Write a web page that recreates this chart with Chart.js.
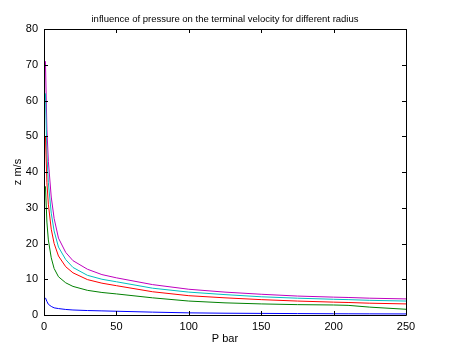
<!DOCTYPE html>
<html>
<head>
<meta charset="utf-8">
<script src="https://cdn.jsdelivr.net/npm/chart.js@4"></script>
<style>
  html, body { margin: 0; padding: 0; background: #fff; }
  #wrap { width: 449px; height: 351px; }
</style>
</head>
<body>
<div id="wrap"><canvas id="velChart" width="449" height="351"></canvas></div>
<script>
// pressure samples (bar)
const pressure = [1, 2, 3, 5, 7, 10, 15, 20, 30, 40, 50, 75, 100, 125, 150, 175, 200, 210, 225, 250];

// terminal velocity per radius
const velBlue    = [4.8, 3.8, 3.0, 2.4, 2.0, 1.8, 1.55, 1.4, 1.25, 1.15, 1.05, 0.8, 0.6, 0.5, 0.45, 0.4, 0.35, 0.34, 0.32, 0.3];
const velGreen   = [36, 26, 21, 16, 13, 10.7, 9.0, 8.0, 6.9, 6.3, 5.9, 4.8, 3.9, 3.4, 3.1, 2.9, 2.8, 2.7, 2.2, 1.6];
const velRed     = [50, 37, 31, 24, 20, 16.5, 13.5, 11.8, 9.9, 8.9, 8.2, 6.5, 5.4, 4.8, 4.3, 3.9, 3.6, 3.5, 3.3, 3.1];
const velCyan    = [62, 45, 37, 28.5, 23.5, 19, 15.5, 13.3, 11.1, 10.0, 9.3, 7.5, 6.4, 5.7, 5.1, 4.7, 4.4, 4.3, 4.1, 3.9];
const velMagenta = [71, 52, 43, 33, 27, 21.5, 17.5, 15.2, 12.8, 11.3, 10.4, 8.5, 7.2, 6.4, 5.8, 5.3, 5.0, 4.9, 4.7, 4.5];

const xTicks = [0, 50, 100, 150, 200, 250];
const yTicks = [0, 10, 20, 30, 40, 50, 60, 70, 80];

const chartTitle = 'influence of pressure on the terminal velocity for different radius';
const FONT = 'Liberation Sans, Arial, sans-serif';

function pts(vals) {
    return pressure.map((p, i) => ({ x: p, y: vals[i] }));
}

function series(vals, color) {
    return { data: pts(vals), borderColor: color, borderWidth: 1, pointRadius: 0, fill: false, tension: 0 };
}

// box frame + inward ticks + centred title, like the matlab axes
const boxTicks = {
    id: 'boxTicks',
    afterDraw(chart) {
        const c = chart.ctx, a = chart.chartArea;
        const xs = chart.scales.x, ys = chart.scales.y;
        const len = 4;
        c.save();
        c.strokeStyle = '#000';
        c.lineWidth = 1;
        c.beginPath();
        c.rect(Math.round(a.left) + 0.5, Math.round(a.top) + 0.5, Math.round(a.right - a.left), Math.round(a.bottom - a.top));
        xTicks.forEach(v => {
            const px = Math.round(xs.getPixelForValue(v)) + 0.5;
            c.moveTo(px, a.bottom); c.lineTo(px, a.bottom - len);
            c.moveTo(px, a.top); c.lineTo(px, a.top + len);
        });
        yTicks.forEach(v => {
            const py = Math.round(ys.getPixelForValue(v)) + 0.5;
            c.moveTo(a.left, py); c.lineTo(a.left + len, py);
            c.moveTo(a.right, py); c.lineTo(a.right - len, py);
        });
        c.stroke();

        c.fillStyle = '#000';
        c.font = '9.5px ' + FONT;
        c.textAlign = 'center';
        c.textBaseline = 'middle';
        c.fillText(chartTitle, (a.left + a.right) / 2, 19);
        c.restore();
    }
};

new Chart(document.getElementById('velChart'), {
    type: 'line',
    data: {
        datasets: [
            series(velBlue, '#0000ff'),
            series(velGreen, '#008000'),
            series(velRed, '#ff0000'),
            series(velCyan, '#00bfbf'),
            series(velMagenta, '#bf00bf')
        ]
    },
    options: {
        responsive: false,
        animation: false,
        layout: { padding: { left: 0, right: 43, top: 29, bottom: 0 } },
        plugins: {
            legend: { display: false },
            tooltip: { enabled: false },
            title: { display: false }
        },
        scales: {
            x: {
                type: 'linear',
                min: 0, max: 250,
                afterBuildTicks: s => { s.ticks = xTicks.map(v => ({ value: v })); },
                afterFit: s => { s.height = 36; },
                grid: { display: false, drawTicks: false },
                border: { display: false },
                ticks: { color: '#000', padding: 5, maxRotation: 0, font: { family: FONT, size: 11 } },
                title: { display: true, text: 'P bar', color: '#000', padding: { top: 0, bottom: 5 }, font: { family: FONT, size: 11 } }
            },
            y: {
                type: 'linear',
                min: 0, max: 80,
                afterBuildTicks: s => { s.ticks = yTicks.map(v => ({ value: v })); },
                afterFit: s => { s.width = 44; },
                grid: { display: false, drawTicks: false },
                border: { display: false },
                ticks: { color: '#000', padding: 6, font: { family: FONT, size: 11 } },
                title: { display: true, text: 'z m/s', color: '#000', padding: { top: 11, bottom: 0 }, font: { family: FONT, size: 11 } }
            }
        }
    },
    plugins: [boxTicks]
});
</script>
</body>
</html>
